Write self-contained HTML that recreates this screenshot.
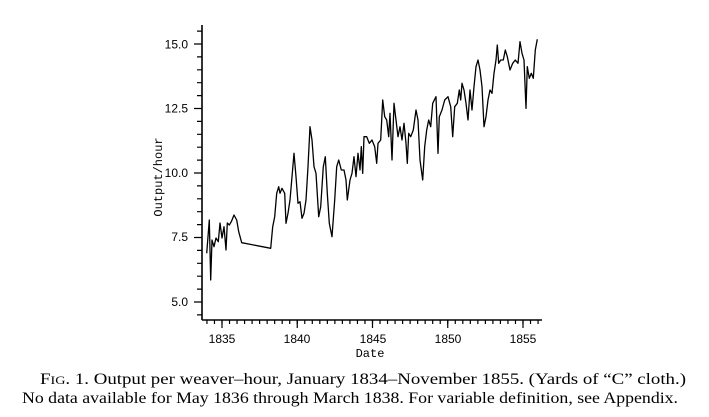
<!DOCTYPE html>
<html><head><meta charset="utf-8"><style>
html,body{margin:0;padding:0;background:#fff;}
svg{display:block;}
</style></head><body>
<svg width="709" height="417" viewBox="0 0 709 417" xmlns="http://www.w3.org/2000/svg">
<g stroke="#000" stroke-width="1.6" fill="none">
<line x1="202" y1="25" x2="202" y2="320"/>
<line x1="202" y1="320" x2="542" y2="320"/>
</g>
<g stroke="#000" stroke-width="1.2" fill="none">
<path d="M197 314.9h5M197 289.1h5M197 276.2h5M197 263.3h5M197 250.4h5M197 224.6h5M197 211.7h5M197 198.8h5M197 185.9h5M197 160.1h5M197 147.2h5M197 134.3h5M197 121.4h5M197 95.6h5M197 82.7h5M197 69.8h5M197 56.9h5M197 31.1h5"/>
<path d="M194 302h8M194 237.5h8M194 173h8M194 108.5h8M194 44h8"/>
<path d="M206.95 320v4
m7.525 -4v4m7.525 -4v4m7.525 -4v4m7.525 -4v4m7.525 -4v4m7.525 -4v4m7.525 -4v4m7.525 -4v4m7.525 -4v4m7.525 -4v4m7.525 -4v4
m7.525 -4v4m7.525 -4v4m7.525 -4v4m7.525 -4v4m7.525 -4v4m7.525 -4v4m7.525 -4v4m7.525 -4v4m7.525 -4v4m7.525 -4v4m7.525 -4v4
m7.525 -4v4m7.525 -4v4m7.525 -4v4m7.525 -4v4m7.525 -4v4m7.525 -4v4m7.525 -4v4m7.525 -4v4m7.525 -4v4m7.525 -4v4m7.525 -4v4
m7.525 -4v4m7.525 -4v4m7.525 -4v4m7.525 -4v4m7.525 -4v4m7.525 -4v4m7.525 -4v4m7.525 -4v4m7.525 -4v4m7.525 -4v4m7.525 -4v4"/>
<path d="M222 320v8M297.25 320v8M372.5 320v8M447.75 320v8M523 320v8"/>
</g>
<g font-family="Liberation Sans, sans-serif" font-size="12" fill="#000">
<text x="188" y="48.5" text-anchor="end">15.0</text>
<text x="188" y="112.5" text-anchor="end">12.5</text>
<text x="188" y="177" text-anchor="end">10.0</text>
<text x="188" y="241" text-anchor="end">7.5</text>
<text x="188" y="306" text-anchor="end">5.0</text>
<text x="222" y="343" text-anchor="middle">1835</text>
<text x="297" y="343" text-anchor="middle">1840</text>
<text x="373" y="343" text-anchor="middle">1845</text>
<text x="448" y="343" text-anchor="middle">1850</text>
<text x="523" y="343" text-anchor="middle">1855</text>
</g>
<g font-family="Liberation Mono, monospace" font-size="12" fill="#000">
<text x="370" y="357" text-anchor="middle">Date</text>
<text transform="translate(162,177) rotate(-90)" text-anchor="middle">Output/hour</text>
</g>
<polyline fill="none" stroke="#000" stroke-width="1.3" stroke-linejoin="round" points="
206.7,253.3 209.3,220 210.7,280 212,240 214,246.7 216,238 218.3,241.7 220,223 222,238 224,226.7 226,250 227.3,223 229.3,225 231.3,221.7 234,215 236.7,220 238.7,231.7 241.7,242.7
270.7,248.3 272.7,226.7 274.7,216.7 276.7,193.3 278.7,186.7 280,193.3 282,188.3 284.7,193.3 286,223.3 288,213.3 290,200 292,176.7 294,153.3 296,176.7 298,203.3 300,201.7 302,218.3 304,213.3 306,200 308,166.7 310,126.7 312,140 314,166.7 316,173.3 318.7,216.7 320.7,206.7 323.3,166.7 325.3,156.7 327.3,193.3 329.3,223.3 332,236.7 334.7,200 336.7,166.7 338.7,160 341.3,170 344,170 346,180 347.3,200 350,180 352,173.3 354,156.7 356,176.7 358,153.3 360,170 361.3,146.7 362.7,173.3 364,136.7 366.7,136.7 369.3,143.3 372,140 374.7,146.7 376.7,163.3 378,143.3 380.7,140 382.7,100 384.7,116.7 386.7,120 388.7,136.7 390,113.3 392,160 394,103.3 396,120 398,136.7
400,126.7 402,140 404,123.3 406,143.3 407.3,163.3 408.7,133.3 410.7,136.7 413.3,130 416,110 418,120 420,160 422.7,180 424.7,146.7 426.7,130 428.7,120 430.7,126.7 432.7,103.3 436,96.7 438,153.3 439.3,116.7 442,110 444.7,100 448,96.7 450.7,106.7 452.7,136.7 454.7,106.7 457.3,103.3 459.3,90 460.7,100 462,83.3 464,90 466,103.3 468,120 470,90 472,110 474,86.7 476,66.7 478,60 480,70 482,86.7 484,126.7 486,116.7 488,100 490,90 492,93.3 494,73.3 496,60 497.3,45 498.7,63.3 500.7,60 503.3,60 505.3,50 507.3,56.7 510,70 512.7,63.3 515.3,60 518,63.3 520,41.7 522,53.3 524,60 526,108.3 527.3,66.7 529.3,78.3 531.3,73.3 533.3,78.3 535.3,50 537.3,39.3"/>
<g font-family="Liberation Serif, serif" font-size="16" fill="#000">
<text x="40" y="384" textLength="646" lengthAdjust="spacingAndGlyphs">F<tspan font-size="12">IG</tspan>.  1.   Output per weaver–hour, January 1834–November 1855. (Yards of “C” cloth.)</text>
<text x="22" y="403" textLength="656" lengthAdjust="spacingAndGlyphs">No data available for May 1836 through March 1838. For variable definition, see Appendix.</text>
</g>
</svg>
</body></html>
